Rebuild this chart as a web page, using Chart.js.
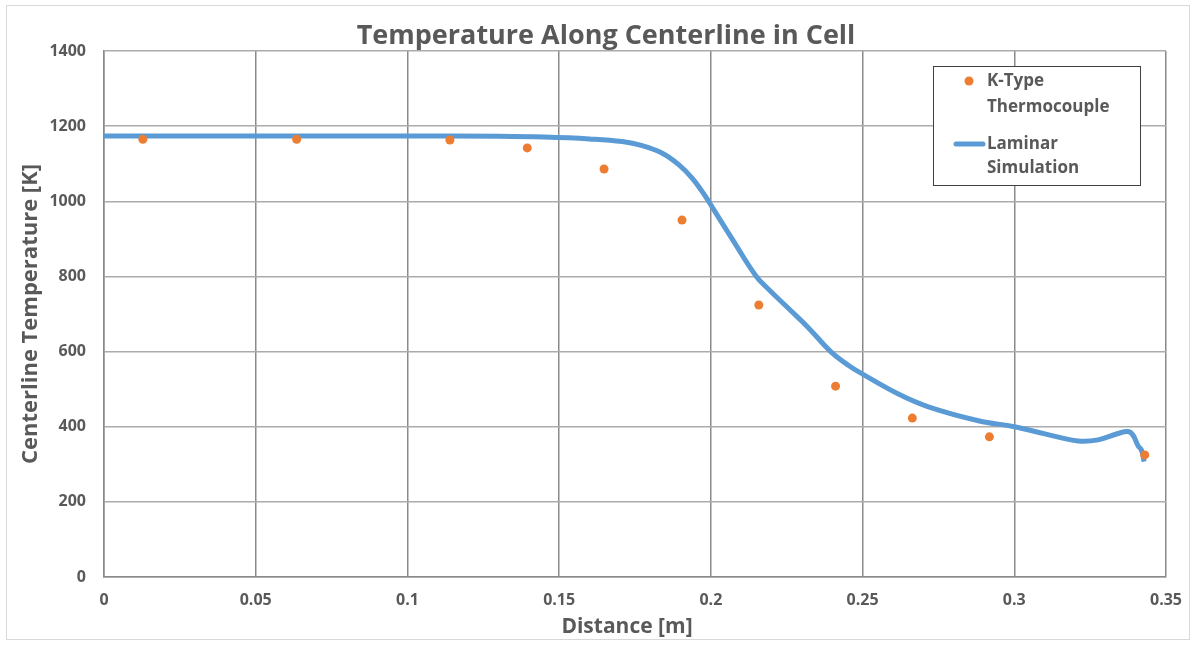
<!DOCTYPE html>
<html>
<head>
<meta charset="utf-8">
<script src="https://cdn.jsdelivr.net/npm/chart.js@4.4.0/dist/chart.umd.min.js"></script>
<style>
  html, body { margin: 0; padding: 0; background: #fff; }
  #wrap { width: 1196px; height: 645px; position: relative; }
</style>
</head>
<body>
<div id="wrap"><canvas id="chart" width="1196" height="645"></canvas></div>
<script>
// thermocouple readings
const tcDistance = [0.0128, 0.0635, 0.114, 0.1395, 0.1648, 0.1905, 0.2158, 0.2411, 0.2664, 0.2918, 0.343];
const tcTemp = [1165, 1165, 1163, 1142, 1086, 950, 724, 508, 423, 373, 325];

// laminar simulation curve
const simDistance = [0, 0.05, 0.1, 0.13, 0.145, 0.16, 0.1708, 0.1774, 0.184, 0.1895, 0.1939, 0.1983, 0.201, 0.207, 0.2148, 0.2191, 0.2257, 0.2322, 0.2395, 0.2454, 0.25, 0.2618, 0.2717, 0.2882, 0.3, 0.3101, 0.3211, 0.3276, 0.3342, 0.3375, 0.3391, 0.3408, 0.3419, 0.3428];
const simTemp = [1174, 1174, 1174, 1173, 1171, 1166, 1159, 1148, 1128, 1097, 1061, 1012, 977, 900, 802, 765, 714, 663, 600, 563, 540, 487, 453, 416, 400, 381, 362, 365, 382, 387, 378, 349, 338, 307];

const xTickValues = [0, 0.05, 0.1, 0.15, 0.2, 0.25, 0.3, 0.35];
const xTickLabels = ['0', '0.05', '0.1', '0.15', '0.2', '0.25', '0.3', '0.35'];

const seriesNames = ['K-Type Thermocouple', 'Laminar Simulation'];

const textColor = '#595959';
const orange = '#ED7D31';
const blue = '#5B9BD5';
const fontName = '"Open Sans", Lato, sans-serif';

const toPoints = (xs, ys) => xs.map((x, i) => ({ x: x, y: ys[i] }));

// title, axis titles, legend and outer frame
const decorations = {
    id: 'decorations',
    afterDraw(chart) {
        const ctx = chart.ctx;
        const area = chart.chartArea;
        ctx.save();

        ctx.strokeStyle = '#d9d9d9';
        ctx.lineWidth = 1;
        ctx.strokeRect(6.5, 5.5, 1183, 634);

        ctx.fillStyle = textColor;
        ctx.textAlign = 'center';
        ctx.textBaseline = 'middle';
        ctx.font = 'bold 27px ' + fontName;
        ctx.fillText('Temperature Along Centerline in Cell', 606, 36);

        ctx.font = 'bold 21px ' + fontName;
        ctx.fillText('Distance [m]', 627, 627);

        ctx.save();
        ctx.translate(31, (area.top + area.bottom) / 2);
        ctx.rotate(-Math.PI / 2);
        ctx.font = 'bold 22px ' + fontName;
        ctx.fillText('Centerline Temperature [K]', 0, 0);
        ctx.restore();

        // legend box
        ctx.fillStyle = '#fff';
        ctx.fillRect(933, 66, 207, 119);
        ctx.strokeStyle = '#404040';
        ctx.lineWidth = 1;
        ctx.strokeRect(933.5, 66.5, 207, 119);

        ctx.fillStyle = orange;
        ctx.beginPath();
        ctx.arc(969, 81, 4.5, 0, Math.PI * 2);
        ctx.fill();

        ctx.strokeStyle = blue;
        ctx.lineWidth = 5;
        ctx.lineCap = 'round';
        ctx.beginPath();
        ctx.moveTo(956, 144);
        ctx.lineTo(983, 144);
        ctx.stroke();

        ctx.fillStyle = textColor;
        ctx.textAlign = 'left';
        ctx.font = 'bold 17px ' + fontName;
        const w0 = seriesNames[0].split(' ');
        const w1 = seriesNames[1].split(' ');
        ctx.fillText(w0[0], 987, 81);
        ctx.fillText(w0[1], 987, 107);
        ctx.fillText(w1[0], 987, 144);
        ctx.fillText(w1[1], 987, 168);

        ctx.restore();
    }
};

new Chart(document.getElementById('chart'), {
    type: 'scatter',
    data: {
        datasets: [{
            label: seriesNames[0],
            data: toPoints(tcDistance, tcTemp),
            backgroundColor: orange,
            borderColor: orange,
            pointRadius: 4.5,
            pointHoverRadius: 4.5,
            pointBorderWidth: 0,
            showLine: false
        }, {
            label: seriesNames[1],
            data: toPoints(simDistance, simTemp),
            borderColor: blue,
            backgroundColor: blue,
            borderWidth: 5,
            pointRadius: 0,
            showLine: true,
            tension: 0.4
        }]
    },
    options: {
        responsive: false,
        animation: false,
        layout: { padding: { top: 51, right: 29, left: 0, bottom: 0 } },
        plugins: {
            legend: { display: false },
            title: { display: false },
            tooltip: { enabled: false }
        },
        scales: {
            x: {
                type: 'linear',
                min: 0,
                max: 0.35,
                afterBuildTicks: (scale) => {
                    scale.ticks = xTickValues.map(v => ({ value: v }));
                },
                afterFit: (scale) => { scale.height = 68; },
                grid: { color: '#8a8a8a', lineWidth: 1.5, drawTicks: false },
                border: { color: '#8a8a8a', width: 1.5 },
                ticks: {
                    padding: 14,
                    color: textColor,
                    font: { family: fontName, size: 16, weight: 'bold' },
                    callback: (v) => {
                        const i = xTickValues.findIndex(t => Math.abs(t - v) < 1e-9);
                        return i >= 0 ? xTickLabels[i] : '';
                    }
                }
            },
            y: {
                min: 0,
                max: 1400,
                afterFit: (scale) => { scale.width = 104; },
                grid: { color: '#ababab', lineWidth: 1.5, drawTicks: false },
                border: { color: '#8a8a8a', width: 1.5 },
                ticks: {
                    stepSize: 200,
                    padding: 18,
                    color: textColor,
                    font: { family: fontName, size: 16, weight: 'bold' },
                    callback: (v) => String(v)
                }
            }
        }
    },
    plugins: [decorations]
});
</script>
</body>
</html>
